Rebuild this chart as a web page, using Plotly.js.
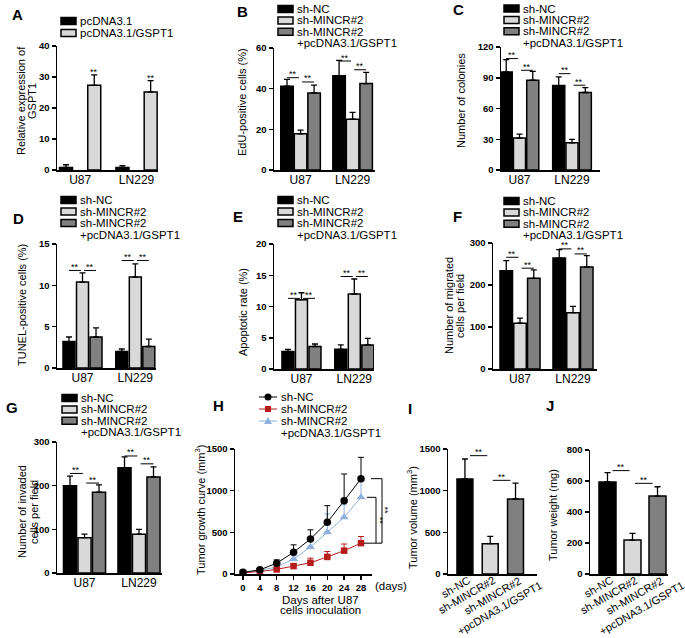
<!DOCTYPE html>
<html><head><meta charset="utf-8">
<script src="https://cdn.plot.ly/plotly-3.0.1.min.js"></script>
<style>html,body{margin:0;padding:0;background:#fff}#chart{width:685px;height:638px}</style>
</head><body><div id="chart"></div>
<script>
// ---------------- data ----------------
const cellLines = ['U87', 'LN229'];
const namesA = ['pcDNA3.1', 'pcDNA3.1/GSPT1'];
const names3 = ['sh-NC', 'sh-MINCR#2', 'sh-MINCR#2<br>+pcDNA3.1/GSPT1'];

const A_vec = [0.8, 0.8], A_vec_err = [0.9, 0.6];
const A_gspt = [27.3, 25.2], A_gspt_err = [3.4, 3.6];
const A_sig = [32.3, 30.3];

const B_nc = [41.2, 46.4], B_nc_err = [3.4, 7.5];
const B_sh = [17.8, 25.0], B_sh_err = [1.8, 3.3];
const B_gs = [37.9, 42.5], B_gs_err = [3.8, 5.5];
const B_sig = [45.4, 43.3, 53.6, 49.3];

const C_nc = [95.7, 82.4], C_nc_err = [12, 8.4];
const C_sh = [31.1, 26.6], C_sh_err = [3.9, 3.2];
const C_gs = [87.6, 75.6], C_gs_err = [8.7, 4.8];
const C_sig = [108.7, 97.3, 94, 82.7];

const D_nc = [3.2, 2.0], D_nc_err = [0.55, 0.3];
const D_sh = [10.4, 11.0], D_sh_err = [1.1, 1.6];
const D_gs = [3.75, 2.6], D_gs_err = [1.1, 0.9];
const D_sig = [11.8, 11.8, 13.0, 13.0];

const E_nc = [2.8, 3.15], E_nc_err = [0.35, 0.7];
const E_sh = [11.1, 12.0], E_sh_err = [1.1, 2.4];
const E_gs = [3.6, 3.85], E_gs_err = [0.4, 1.05];
const E_sig = [11.3, 11.3, 14.8, 14.8];

const F_nc = [234, 264], F_nc_err = [24, 20];
const F_sh = [109, 134], F_sh_err = [12, 15];
const F_gs = [216, 243], F_gs_err = [20, 27];
const F_sig = [266, 240, 286, 274];

const G_nc = [200, 241], G_nc_err = [22, 25];
const G_sh = [81, 89], G_sh_err = [8, 11];
const G_gs = [185, 220], G_gs_err = [17, 23];
const G_sig = [228, 206, 268, 250];

const days = [0, 4, 8, 12, 16, 20, 24, 28];
const H_nc = [20, 50, 130, 260, 420, 620, 880, 1144];
const H_nc_err = [10, 15, 40, 90, 110, 200, 320, 256];
const H_sh = [15, 30, 55, 95, 135, 205, 280, 370];
const H_sh_err = [5, 10, 15, 20, 55, 65, 80, 80];
const H_gs = [15, 44, 84, 180, 324, 500, 680, 920];
const H_gs_err = [5, 10, 20, 40, 100, 220, 150, 200];

const I_vol = [1140, 364, 900], I_vol_err = [240, 88, 190];
const I_sig = [1420, 1124];
const J_wt = [594, 219, 503], J_wt_err = [60, 43, 60];
const J_sig = [667, 585];

// ---------------- helpers ----------------
const W = 685, HH = 638;
const fx = p => p / W, fy = p => 1 - p / HH;
const FONT = 'Liberation Sans, Arial, Helvetica, sans-serif';
const BLACK = '#000000', LIGHT = '#d9d9d9', DARK = '#808080';
const traces = [], shapes = [], annotations = [];
const layout = {
  width: W, height: HH, margin: {l: 0, r: 0, t: 0, b: 0},
  paper_bgcolor: '#fff', plot_bgcolor: 'rgba(0,0,0,0)', showlegend: false,
  barmode: 'overlay', font: {family: FONT, color: '#000'},
  shapes: shapes, annotations: annotations
};
const measureCtx = document.createElement('canvas').getContext('2d');
function textWidth(t, size) { measureCtx.font = size + 'px "Liberation Sans", Arial, sans-serif'; return measureCtx.measureText(t).width; }

function sfx(k) { return k === 1 ? '' : String(k); }
function setAxes(k, xdom, ydom, xopt, yopt) {
  const s = sfx(k);
  layout['xaxis' + s] = Object.assign({
    domain: [fx(xdom[0]), fx(xdom[1])], anchor: 'y' + s, showline: true, linecolor: '#000', linewidth: 1.5,
    showgrid: false, zeroline: false, ticks: '', ticklabelstandoff: -2,
    tickfont: {family: FONT, size: 12, color: '#000'}, fixedrange: true
  }, xopt);
  layout['yaxis' + s] = Object.assign({
    domain: [fy(ydom[1]), fy(ydom[0])], anchor: 'x' + s, showline: true, linecolor: '#000', linewidth: 1.5,
    showgrid: false, zeroline: false, ticks: 'outside', ticklen: 4, tickwidth: 1.5, tickcolor: '#000',
    tickfont: {family: FONT, size: 9.5, color: '#000', weight: 'bold'}, fixedrange: true
  }, yopt);
}
function errObj(arr, color, thick) {
  return {type: 'data', symmetric: false, array: arr, arrayminus: arr.map(() => 0), color: color || '#000', thickness: thick || 1.3, width: 3};
}
function barPanel(k, cats, series, cfg) {
  const s = sfx(k);
  series.forEach((sr, i) => {
    traces.push({
      type: 'bar', x: cats, y: sr.y, name: sr.name, xaxis: 'x' + s, yaxis: 'y' + s,
      width: cfg.bw, offset: cfg.centers[i] - cfg.bw / 2,
      marker: {color: sr.color, line: {color: '#000', width: 1.5}},
      error_y: errObj(sr.err), hoverinfo: 'skip'
    });
  });
  setAxes(k, cfg.xdom, cfg.ydom, {type: 'category', range: cfg.xrange},
    {range: cfg.yrange, dtick: cfg.dtick, tick0: 0});
}
function sigText(xref, yref, x, y) {
  annotations.push({xref: xref, yref: yref, x: x, y: y, text: '**', showarrow: false,
    yanchor: 'bottom', yshift: -3.5, font: {size: 9, color: '#000'}});
}
function sigLine(xref, yref, x0, x1, y) {
  shapes.push({type: 'line', xref: xref, yref: yref, x0: x0, x1: x1, y0: y, y1: y, line: {color: '#000', width: 1}});
  sigText(xref, yref, (x0 + x1) / 2, y);
}
function sigPairs(k, cfg, sig) {
  const s = sfx(k), g = 0.03, c = cfg.centers;
  for (let cat = 0; cat < 2; cat++) {
    sigLine('x' + s, 'y' + s, cat + c[0], cat + c[1] - g, sig[cat * 2]);
    sigLine('x' + s, 'y' + s, cat + c[1] + g, cat + c[2], sig[cat * 2 + 1]);
  }
}
function legendBlock(x, y0, names, colors, rowH) {
  let row = 0;
  names.forEach((nm, i) => {
    const y = y0 + row * rowH;
    shapes.push({type: 'rect', xref: 'paper', yref: 'paper', x0: fx(x), x1: fx(x + 15), y0: fy(y + 3.5), y1: fy(y - 3.5),
      fillcolor: colors[i], line: {color: '#000', width: 1.5}});
    const parts = nm.split('<br>');
    parts.forEach((ln, j) => {
      annotations.push({xref: 'paper', yref: 'paper', x: fx(x + 17), y: fy(y + j * rowH), text: ln,
        xanchor: 'left', yanchor: 'middle', showarrow: false, font: {size: 11.5, color: '#000'}});
    });
    row += parts.length;
  });
}
function yTitle(lines, xs, yc) {
  lines.forEach((t, i) => annotations.push({xref: 'paper', yref: 'paper', x: fx(xs[i]), y: fy(yc), text: t,
    textangle: -90, showarrow: false, xanchor: 'center', yanchor: 'middle', font: {size: 11, color: '#000'}}));
}
function letter(t, x, y) {
  annotations.push({xref: 'paper', yref: 'paper', x: fx(x), y: fy(y), text: '<b>' + t + '</b>', showarrow: false,
    xanchor: 'center', yanchor: 'middle', font: {size: 15, color: '#000'}});
}
const col3 = [BLACK, LIGHT, DARK];
function ser3(a, ae, b, be, c, ce) {
  return [{name: names3[0], y: a, err: ae, color: BLACK}, {name: names3[1], y: b, err: be, color: LIGHT},
          {name: names3[2], y: c, err: ce, color: DARK}];
}

// ---------------- A ----------------
const cfgA = {bw: 0.23, centers: [-0.25, 0.25], xdom: [57, 158], ydom: [46, 170], xrange: [-0.41, 1.38], yrange: [0, 40], dtick: 10};
barPanel(1, cellLines, [{name: namesA[0], y: A_vec, err: A_vec_err, color: BLACK},
                        {name: namesA[1], y: A_gspt, err: A_gspt_err, color: LIGHT}], cfgA);
A_sig.forEach((v, i) => annotations.push({xref: 'x', yref: 'y', x: i + cfgA.centers[1], y: v, text: '**', showarrow: false,
  yanchor: 'middle', yshift: -2, font: {size: 9, color: '#000'}}));
legendBlock(61, 21, namesA, [BLACK, LIGHT], 12);
yTitle(['Relative expression of', 'GSPT1'], [21, 32], 101);
letter('A', 17, 15);

// ---------------- B ----------------
const cfgB = {bw: 0.24, centers: [-0.26, 0, 0.26], xdom: [274, 375], ydom: [48, 170], xrange: [-0.51, 1.43], yrange: [0, 60], dtick: 20};
barPanel(2, cellLines, ser3(B_nc, B_nc_err, B_sh, B_sh_err, B_gs, B_gs_err), cfgB);
sigPairs(2, cfgB, B_sig);
legendBlock(278, 9, names3, col3, 11.4);
yTitle(['EdU-positive cells (%)'], [242], 102);
letter('B', 242, 11);

// ---------------- C ----------------
const cfgC = {bw: 0.23, centers: [-0.253, 0, 0.253], xdom: [501, 600], ydom: [47, 170], xrange: [-0.352, 1.533], yrange: [0, 120], dtick: 30};
barPanel(3, cellLines, ser3(C_nc, C_nc_err, C_sh, C_sh_err, C_gs, C_gs_err), cfgC);
sigPairs(3, cfgC, C_sig);
legendBlock(504, 8.5, names3, col3, 11.4);
yTitle(['Number of colonies'], [461], 101);
letter('C', 458, 10);

// ---------------- D ----------------
const cfgD = {bw: 0.227, centers: [-0.256, 0, 0.256], xdom: [57, 156], ydom: [244, 368], xrange: [-0.483, 1.392], yrange: [0, 15], dtick: 5};
barPanel(4, cellLines, ser3(D_nc, D_nc_err, D_sh, D_sh_err, D_gs, D_gs_err), cfgD);
sigPairs(4, cfgD, D_sig);
legendBlock(61, 200, names3, col3, 11.5);
yTitle(['TUNEL-positive cells (%)'], [22], 305);
letter('D', 18, 218);

// ---------------- E ----------------
const cfgE = {bw: 0.227, centers: [-0.256, 0, 0.256], xdom: [274, 374], ydom: [244, 369], xrange: [-0.52, 1.373], yrange: [0, 20], dtick: 5};
barPanel(5, cellLines, ser3(E_nc, E_nc_err, E_sh, E_sh_err, E_gs, E_gs_err), cfgE);
sigPairs(5, cfgE, E_sig);
legendBlock(278, 200, names3, col3, 11.5);
yTitle(['Apoptotic rate (%)'], [243], 312);
letter('E', 238, 217);

// ---------------- F ----------------
const cfgF = {bw: 0.236, centers: [-0.26, 0, 0.26], xdom: [493, 597], ydom: [243, 369], xrange: [-0.51, 1.453], yrange: [0, 300], dtick: 100};
barPanel(6, cellLines, ser3(F_nc, F_nc_err, F_sh, F_sh_err, F_gs, F_gs_err), cfgF);
sigPairs(6, cfgF, F_sig);
legendBlock(504, 201, names3, col3, 11.4);
yTitle(['Number of migrated', 'cells per field'], [449, 460], 306);
letter('F', 457, 217);

// ---------------- G ----------------
const cfgG = {bw: 0.24, centers: [-0.266, 0, 0.266], xdom: [57, 162], ydom: [442, 573], xrange: [-0.505, 1.422], yrange: [0, 300], dtick: 100};
barPanel(7, cellLines, ser3(G_nc, G_nc_err, G_sh, G_sh_err, G_gs, G_gs_err), cfgG);
sigPairs(7, cfgG, G_sig);
legendBlock(62, 398, names3, col3, 11.4);
yTitle(['Number of invaded', 'cells per field'], [22, 34], 512);
letter('G', 12, 407);

// ---------------- H ----------------
const Hser = [
  {name: names3[2], y: H_gs, err: H_gs_err, color: '#8fb0dc', symbol: 'triangle-up', size: 8},
  {name: names3[1], y: H_sh, err: H_sh_err, color: '#b71c1c', symbol: 'square', size: 6.5},
  {name: names3[0], y: H_nc, err: H_nc_err, color: '#000000', symbol: 'circle', size: 7.5}
];
Hser.forEach(sr => traces.push({
  type: 'scatter', mode: 'lines+markers', x: days, y: sr.y, name: sr.name, xaxis: 'x8', yaxis: 'y8',
  line: {color: sr.color, width: 1}, marker: {color: sr.color, symbol: sr.symbol, size: sr.size},
  error_y: errObj(sr.err, sr.color, 1), hoverinfo: 'skip', cliponaxis: false
}));
setAxes(8, [235, 372], [449, 574],
  {type: 'linear', range: [-1.898, 30.61], tickvals: days, ticks: 'outside', ticklen: 4, tickwidth: 1.5, tickcolor: '#000',
   ticklabelstandoff: 0, tickfont: {family: FONT, size: 9.5, color: '#000', weight: 'bold'}},
  {range: [0, 1500], dtick: 500, tick0: 0});
annotations.push({xref: 'paper', yref: 'paper', x: fx(373), y: fy(586), text: '(days)', xanchor: 'left', yanchor: 'middle', showarrow: false, font: {size: 11.5, color: '#000'}});
annotations.push({xref: 'paper', yref: 'paper', x: fx(320), y: fy(599.5), text: 'Days after U87', xanchor: 'center', yanchor: 'middle', showarrow: false, font: {size: 11.5, color: '#000'}});
annotations.push({xref: 'paper', yref: 'paper', x: fx(320), y: fy(610), text: 'cells inoculation', xanchor: 'center', yanchor: 'middle', showarrow: false, font: {size: 11.5, color: '#000'}});
const yNC = H_nc[H_nc.length - 1], yGS = H_gs[H_gs.length - 1], ySH = H_sh[H_sh.length - 1];
shapes.push({type: 'path', xref: 'paper', yref: 'y8', line: {color: '#000', width: 1},
  path: 'M' + fx(371) + ',' + yNC + ' L' + fx(382) + ',' + yNC + ' L' + fx(382) + ',' + ySH + ' L' + fx(364) + ',' + ySH});
shapes.push({type: 'path', xref: 'paper', yref: 'y8', line: {color: '#000', width: 1},
  path: 'M' + fx(367) + ',' + yGS + ' L' + fx(376) + ',' + yGS + ' L' + fx(376) + ',' + ySH});
annotations.push({xref: 'paper', yref: 'y8', x: fx(379.5), y: (yGS + ySH) / 2, text: '**', textangle: 90, showarrow: false, font: {size: 9, color: '#000'}});
annotations.push({xref: 'paper', yref: 'y8', x: fx(385.5), y: (yNC + ySH) / 2, text: '**', textangle: 90, showarrow: false, font: {size: 9, color: '#000'}});
// legend H
const Hleg = [Hser[2], Hser[1], Hser[0]];
let hrow = 0;
Hleg.forEach(sr => {
  const y = 397 + hrow * 12;
  shapes.push({type: 'line', xref: 'paper', yref: 'paper', x0: fx(259), x1: fx(277), y0: fy(y), y1: fy(y), line: {color: sr.color, width: 1}});
  if (sr.symbol === 'circle') {
    shapes.push({type: 'circle', xref: 'paper', yref: 'paper', x0: fx(264.5), x1: fx(271.5), y0: fy(y + 3.5), y1: fy(y - 3.5), fillcolor: sr.color, line: {width: 0}});
  } else if (sr.symbol === 'square') {
    shapes.push({type: 'rect', xref: 'paper', yref: 'paper', x0: fx(265), x1: fx(271), y0: fy(y + 3), y1: fy(y - 3), fillcolor: sr.color, line: {width: 0}});
  } else {
    shapes.push({type: 'path', xref: 'paper', yref: 'paper', fillcolor: sr.color, line: {width: 0},
      path: 'M' + fx(264) + ',' + fy(y + 3) + ' L' + fx(272) + ',' + fy(y + 3) + ' L' + fx(268) + ',' + fy(y - 4) + ' Z'});
  }
  const parts = sr.name.split('<br>');
  parts.forEach((ln, j) => annotations.push({xref: 'paper', yref: 'paper', x: fx(279), y: fy(y + j * 12), text: ln,
    xanchor: 'left', yanchor: 'middle', showarrow: false, font: {size: 11.5, color: '#000'}}));
  hrow += parts.length;
});
yTitle(['Tumor growth curve (mm<sup>3</sup>)'], [200], 510);
letter('H', 218, 405);

// ---------------- I & J ----------------
function catBarPanel(k, vals, errs, sig, cfg) {
  const s = sfx(k);
  traces.push({type: 'bar', x: names3, y: vals, xaxis: 'x' + s, yaxis: 'y' + s, width: cfg.bw,
    marker: {color: col3, line: {color: '#000', width: 1.5}}, error_y: errObj(errs), hoverinfo: 'skip'});
  setAxes(k, cfg.xdom, cfg.ydom, {type: 'category', range: cfg.xrange, showticklabels: false},
    {range: cfg.yrange, dtick: cfg.dtick, tick0: 0});
  sigLine('x' + s, 'y' + s, 0.2, 0.88, sig[0]);
  sigLine('x' + s, 'y' + s, 1.1, 1.8, sig[1]);
  // slanted category labels (text block centre placed relative to each category position)
  const ang = 30 * Math.PI / 180, fs = 11;
  names3.forEach((lab, i) => {
    const lines = lab.split('<br>');
    let dx, dy;
    if (lines.length === 1) {
      const L = textWidth(lines[0], fs);
      dx = 4 - Math.cos(ang) * L / 2;
      dy = 5 + Math.sin(ang) * L / 2;
    } else {
      dx = -20; dy = 27.5;
    }
    annotations.push({xref: 'x' + s, yref: 'paper', x: i, y: fy(cfg.ydom[1]), text: lab, align: 'center',
      textangle: -30, showarrow: false, xanchor: 'center', yanchor: 'middle', xshift: dx, yshift: -dy,
      font: {size: fs, color: '#000'}});
  });
}
catBarPanel(9, I_vol, I_vol_err, I_sig, {bw: 0.63, xdom: [448, 537], ydom: [449, 574], xrange: [-0.67, 2.85], yrange: [0, 1500], dtick: 500});
yTitle(['Tumor volume (mm<sup>3</sup>)'], [412], 518);
letter('I', 410, 408);
catBarPanel(10, J_wt, J_wt_err, J_sig, {bw: 0.68, xdom: [590, 668], ydom: [450, 574], xrange: [-0.7, 2.42], yrange: [0, 800], dtick: 200});
yTitle(['Tumor weight (mg)'], [553], 515);
letter('J', 550, 405);

Plotly.newPlot('chart', traces, layout, {displayModeBar: false, staticPlot: true});
</script>
</body></html>
